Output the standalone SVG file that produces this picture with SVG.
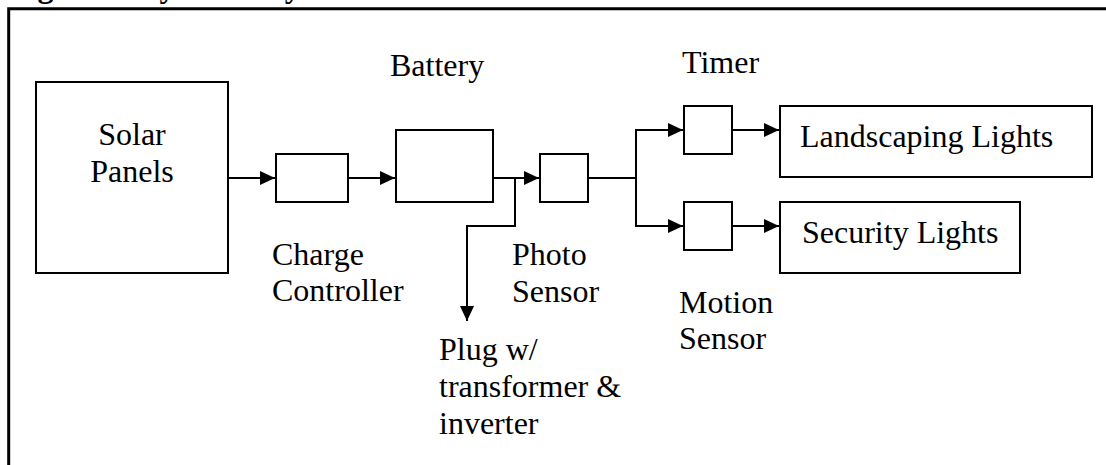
<svg xmlns="http://www.w3.org/2000/svg" width="1106" height="465" viewBox="0 0 1106 465">
<style>
.box{fill:#fff;stroke:#000;stroke-width:2}
.lbl{font-family:"Liberation Serif","Times New Roman",serif;font-size:32px;fill:#000}
.ttl{font-family:"Liberation Serif","Times New Roman",serif;font-size:32px;font-weight:bold;fill:#000}
.ln{fill:none;stroke:#000;stroke-width:2}
</style>
<defs>
<marker id="ah" markerWidth="15" markerHeight="14" refX="15" refY="7" orient="auto" markerUnits="userSpaceOnUse">
<path d="M0,0 L15,7 L0,14 Z" fill="#000"/>
</marker>
</defs>
<rect width="1106" height="465" fill="#fff"/>
<text class="ttl" x="9" y="-3">Figure 1: System Layout</text>
<path d="M8.7,465 V8.7 H1106" fill="none" stroke="#000" stroke-width="3"/>
<g id="solar"><rect class="box" x="36" y="82" width="192" height="191"/>
<text class="lbl" x="132" y="145" text-anchor="middle">Solar</text>
<text class="lbl" x="132" y="182" text-anchor="middle">Panels</text></g>
<g id="charge"><rect class="box" x="276" y="154" width="72" height="48"/>
<text class="lbl" x="272" y="265">Charge</text>
<text class="lbl" x="272" y="301">Controller</text></g>
<g id="battery"><rect class="box" x="396" y="130" width="97" height="72"/>
<text class="lbl" x="390" y="76">Battery</text></g>
<g id="photo"><rect class="box" x="540" y="154" width="48" height="48"/>
<text class="lbl" x="512" y="265">Photo</text>
<text class="lbl" x="512" y="302">Sensor</text></g>
<g id="timer"><rect class="box" x="684" y="106" width="48" height="48"/>
<text class="lbl" x="682" y="73">Timer</text></g>
<g id="motion"><rect class="box" x="684" y="202" width="48" height="48"/>
<text class="lbl" x="679" y="313">Motion</text>
<text class="lbl" x="679" y="349">Sensor</text></g>
<g id="landscaping"><rect class="box" x="780" y="106" width="312" height="71"/>
<text class="lbl" x="800" y="147">Landscaping Lights</text></g>
<g id="security"><rect class="box" x="780" y="202" width="240" height="71"/>
<text class="lbl" x="802" y="243">Security Lights</text></g>
<g id="plug"><text class="lbl" x="439" y="360">Plug w/</text>
<text class="lbl" x="439" y="397">transformer &amp;</text>
<text class="lbl" x="439" y="434">inverter</text></g>
<g id="connectors">
<path class="ln" d="M228,178 H275" marker-end="url(#ah)"/>
<path class="ln" d="M348,178 H395" marker-end="url(#ah)"/>
<path class="ln" d="M493,178 H539" marker-end="url(#ah)"/>
<path class="ln" d="M515,178 V226 H467 V321" marker-end="url(#ah)"/>
<path class="ln" d="M588,178 H636"/>
<path class="ln" d="M636,130 V226"/>
<path class="ln" d="M635,130 H683" marker-end="url(#ah)"/>
<path class="ln" d="M635,226 H683" marker-end="url(#ah)"/>
<path class="ln" d="M732,130 H779" marker-end="url(#ah)"/>
<path class="ln" d="M732,226 H779" marker-end="url(#ah)"/>
</g>
</svg>
